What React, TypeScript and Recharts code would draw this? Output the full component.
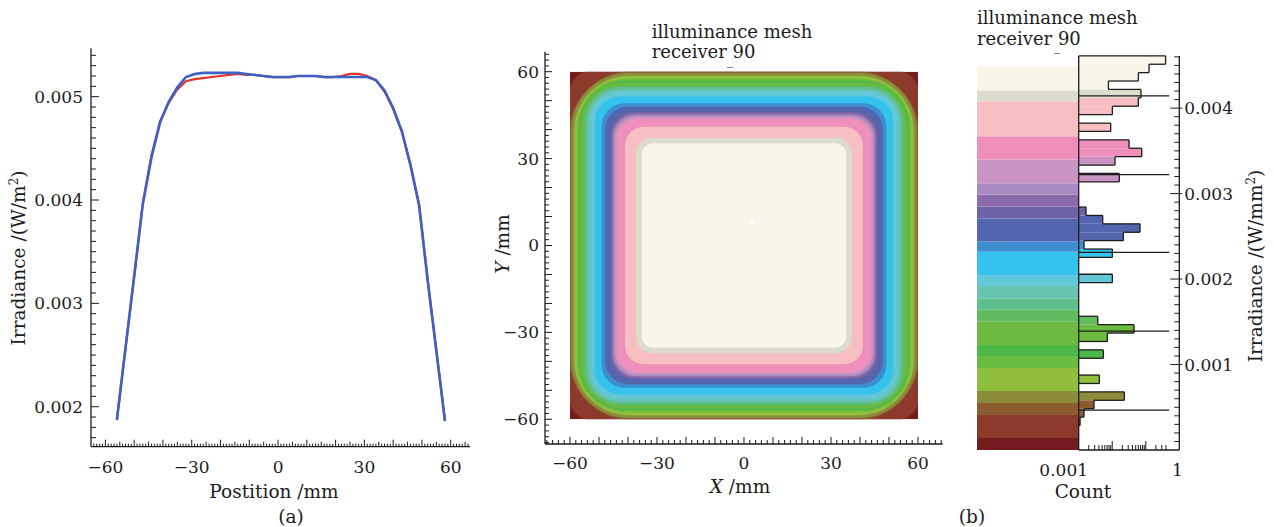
import React from "react";
import {
  LineChart,
  Line,
  ComposedChart,
  XAxis,
  YAxis,
  ReferenceArea,
  ReferenceLine,
} from "recharts";

const SERIF = '"DejaVu Serif", "Liberation Serif", serif';
const INK = "#1c1c1c";

// ---- (a) irradiance profile ----
const positions = [
  -56, -53, -50, -47, -44, -41, -38, -35, -32, -29, -26, -23, -20, -17, -14, -11, -8, -5, -2, 1,
  4, 7, 10, 13, 16, 19, 22, 25, 28, 31, 34, 37, 40, 43, 46, 49, 52, 55, 58,
];
const blueIrr = [
  0.00187, 0.00257, 0.00326, 0.00396, 0.00441, 0.00475, 0.00495, 0.00509, 0.00519, 0.00522,
  0.00523, 0.00523, 0.00523, 0.00523, 0.00523, 0.00522, 0.00521, 0.0052, 0.00519, 0.00519,
  0.00519, 0.0052, 0.0052, 0.0052, 0.00519, 0.00519, 0.00519, 0.00519, 0.00519, 0.00519,
  0.00516, 0.00506, 0.00489, 0.00467, 0.00434, 0.00395, 0.00322, 0.00254, 0.00186,
];
const redIrr = [
  0.00188, 0.00257, 0.00326, 0.00397, 0.00443, 0.00476, 0.00494, 0.00507, 0.00515, 0.00517,
  0.00518, 0.00519, 0.0052, 0.00521, 0.00522, 0.00521, 0.00521, 0.0052, 0.00519, 0.00519,
  0.00519, 0.0052, 0.0052, 0.0052, 0.00519, 0.00519, 0.0052, 0.00522, 0.00522, 0.0052,
  0.00516, 0.00505, 0.00488, 0.00466, 0.00434, 0.00396, 0.00323, 0.00255, 0.00187,
];

// ---- colour scale (irradiance bands, W/mm^2) ----
const scaleColors = [
  "#741c1f", "#8b3a2c", "#8a5c30", "#8d8c3a", "#8fbf3c", "#68bd40", "#4cb848", "#6cba3f",
  "#62bb5f", "#5dbf8c", "#66c4b0", "#62c7d6", "#35c2ec", "#3c8ecf", "#5265ad", "#6e63a8",
  "#8c6bab", "#a98bc1", "#c993c2", "#ee90bb", "#f7bfc2", "#dcdccc", "#f9f5e8",
];
const scaleEdges = [
  0, 0.00014, 0.00041, 0.00055, 0.00069, 0.00096, 0.0011, 0.00123, 0.0015, 0.00164, 0.00177,
  0.00192, 0.00204, 0.00232, 0.00244, 0.00271, 0.00285, 0.00299, 0.00312, 0.0034, 0.00367,
  0.00408, 0.00421, 0.00448,
];

// ---- mesh map: contour of each colour band (half width, corner radius, mm) ----
const bandHalfWidth = [
  60, 60.5, 60.2, 59.6, 58.6, 57.5, 56.8, 56.3, 55.3, 54.8, 54, 53.1, 51.4, 49.1, 47.9, 46.2,
  45.7, 45.1, 44.5, 43.9, 41, 37.2, 35.3,
];
const bandRadius = [
  0, 8.5, 21, 20, 19, 17, 16, 15, 13, 12, 11, 10, 8.5, 8, 8, 8, 8, 7.5, 7.5, 7, 6.5, 5.5, 4,
];
const RECEIVER_HALF = 60;
const peakCell = { x1: 2, x2: 3.6, y1: 7, y2: 8.6 };

// ---- histogram of cell irradiance (top bin first) ----
const histTop = 0.004612;
const histBin = 0.0000983;
const histCounts = [
  0.39, 0.125, 0.06, 0.0077, 0.072, 0.06, 0.0101, 0, 0.009, 0, 0.0317, 0.0757, 0.0121, 0,
  0.0163, 0, 0, 0, 0.00165, 0.0052, 0.0674, 0.0215, 0.00144, 0.0101, 0, 0, 0.0101, 0, 0, 0,
  0, 0.00369, 0.0447, 0.00716, 0, 0.00545, 0, 0, 0.00413, 0, 0.023, 0.00286, 0.00144, 0.0011,
];
const histMarks = [0.004144, 0.003221, 0.002313, 0.00139, 0.000467];

const profileData = positions.map((p, i) => ({ pos: p, blue: blueIrr[i], red: redIrr[i] }));

const fmt = (v: number) => (v < 0 ? "\u2212" + Math.abs(v) : String(v));
const colorAt = (v: number) => {
  for (let i = 0; i < scaleColors.length; i++) {
    if (v >= scaleEdges[i] && v < scaleEdges[i + 1]) return scaleColors[i];
  }
  return scaleColors[scaleColors.length - 1];
};

const COUNT_MIN = 0.001;
const histRows = histCounts.map((c, i) => {
  const hi = histTop - i * histBin;
  return { hi, lo: hi - histBin, count: c, cnt: Math.max(c, COUNT_MIN) };
});

const outline: { x1: number; y1: number; x2: number; y2: number }[] = [];
{
  const cx = histRows.map((r) => r.cnt);
  outline.push({ x1: COUNT_MIN, y1: histRows[0].hi, x2: cx[0], y2: histRows[0].hi });
  histRows.forEach((r, i) => {
    if (r.count > 0) outline.push({ x1: cx[i], y1: r.lo, x2: cx[i], y2: r.hi });
    const nxt = i + 1 < cx.length ? cx[i + 1] : COUNT_MIN;
    if (nxt !== cx[i]) outline.push({ x1: cx[i], y1: r.lo, x2: nxt, y2: r.lo });
  });
}

const range = (a: number, b: number, s: number) => {
  const out: number[] = [];
  for (let v = a; v <= b + 1e-9; v += s) out.push(Math.round(v * 1000) / 1000);
  return out;
};
const aTicksX = range(-64, 66, 1);
const aTicksY = range(17, 54, 1).map((k) => k / 10000);
const mTicksX = range(-68, 68, 2);
const mTicksY = range(-68, 66, 2);
const hTicksY = range(1, 46, 1).map((k) => k / 10000);
const hTicksX = [
  0.001, 0.002, 0.003, 0.004, 0.005, 0.006, 0.007, 0.008, 0.009, 0.01, 0.02, 0.03, 0.04, 0.05,
  0.06, 0.07, 0.08, 0.09, 0.1, 0.2, 0.3, 0.4, 1,
];

const textProps = { fontFamily: SERIF, fontSize: 17, fill: INK };

const ProfileTickX = ({ x, y, payload }: any) => {
  const v = payload.value;
  const len = v % 10 === 0 ? 7 : v % 5 === 0 ? 5 : 3;
  return (
    <g>
      <line x1={x} x2={x} y1={y} y2={y - len} stroke={INK} strokeWidth={1} />
      {v % 30 === 0 && (
        <text x={x} y={y + 26} textAnchor="middle" {...textProps}>
          {fmt(v)}
        </text>
      )}
    </g>
  );
};

const ProfileTickY = ({ x, y, payload }: any) => {
  const k = Math.round(payload.value * 10000);
  const major = k % 10 === 0;
  return (
    <g>
      <line x1={x} x2={x + (major ? 8 : 5)} y1={y} y2={y} stroke={INK} strokeWidth={1} />
      {major && (
        <text x={x - 8} y={y + 6} textAnchor="end" {...textProps}>
          {payload.value.toFixed(3)}
        </text>
      )}
    </g>
  );
};

const MeshTickX = ({ x, y, payload }: any) => {
  const v = payload.value;
  const len = v % 10 === 0 ? 7 : 4;
  return (
    <g>
      <line x1={x} x2={x} y1={y} y2={y - len} stroke={INK} strokeWidth={1} />
      {v % 30 === 0 && (
        <text x={x} y={y + 25} textAnchor="middle" {...textProps}>
          {fmt(v)}
        </text>
      )}
    </g>
  );
};

const MeshTickY = ({ x, y, payload }: any) => {
  const v = payload.value;
  const len = v % 10 === 0 ? 7 : 4;
  return (
    <g>
      <line x1={x} x2={x + len} y1={y} y2={y} stroke={INK} strokeWidth={1} />
      {v % 30 === 0 && (
        <text x={x - 6} y={y + 6} textAnchor="end" {...textProps}>
          {fmt(v)}
        </text>
      )}
    </g>
  );
};

const HistTickY = ({ x, y, payload }: any) => {
  const k = Math.round(payload.value * 10000);
  const major = k % 10 === 0;
  return (
    <g>
      <line x1={major ? x + 3 : x} x2={x - (major ? 9 : 5)} y1={y} y2={y} stroke={INK} strokeWidth={1} />
      {major && (
        <text x={x + 5} y={y + 6} textAnchor="start" {...textProps}>
          {payload.value.toFixed(3)}
        </text>
      )}
    </g>
  );
};

const HistTickX = ({ x, y, payload }: any) => {
  const v = payload.value;
  const major = v === 0.01 || v === 0.1;
  const label = v === 0.001 ? "0.001" : v === 1 ? "1" : null;
  const shift = v === 0.001 ? -15 : -2;
  return (
    <g>
      {v > 0.001 && v < 1 && (
        <line x1={x} x2={x} y1={y} y2={y - (major ? 9 : 5)} stroke={INK} strokeWidth={1} />
      )}
      {label && (
        <text x={x + shift} y={y + 26} textAnchor="middle" {...textProps}>
          {label}
        </text>
      )}
    </g>
  );
};

const bandShape = (band: { w: number; r: number; color: string; id: string }) => (p: any) => {
  const { x, y, width, height } = p;
  const kx = width / (2 * band.w);
  const ky = height / (2 * band.w);
  const cx = x + width / 2;
  const cy = y + height / 2;
  return (
    <g>
      <defs>
        <clipPath id={band.id}>
          <rect
            x={cx - RECEIVER_HALF * kx}
            y={cy - RECEIVER_HALF * ky}
            width={2 * RECEIVER_HALF * kx}
            height={2 * RECEIVER_HALF * ky}
          />
        </clipPath>
      </defs>
      <rect
        x={x}
        y={y}
        width={width}
        height={height}
        rx={band.r * kx}
        ry={band.r * ky}
        fill={band.color}
        clipPath={`url(#${band.id})`}
      />
    </g>
  );
};

function Caption({ x, y, rotate, align, size = 18.5, children }: any) {
  const tx = align === "left" ? "translate(0,-50%)" : "translate(-50%,-50%)";
  return (
    <div
      style={{
        position: "absolute",
        left: x,
        top: y,
        transform: tx + (rotate ? " rotate(-90deg)" : ""),
        fontFamily: SERIF,
        fontSize: size,
        color: INK,
        whiteSpace: "nowrap",
        lineHeight: 1,
      }}
    >
      {children}
    </div>
  );
}

const axisStroke = { stroke: INK, strokeWidth: 1.3 };

export default function App() {
  const bands = scaleColors.map((color, i) => ({
    color,
    w: bandHalfWidth[i],
    r: bandRadius[i],
    id: "band-clip-" + i,
  }));
  const scaleRows = scaleColors.map((c, i) => ({ x: 0.5, lo: scaleEdges[i], hi: scaleEdges[i + 1] }));

  return (
    <div
      style={{
        position: "absolute",
        left: 0,
        top: 0,
        width: 1274,
        height: 527,
        background: "#fff",
        overflow: "hidden",
      }}
    >
      {/* (a) profile */}
      <div style={{ position: "absolute", left: 0, top: 0 }}>
        <LineChart
          width={480}
          height={527}
          data={profileData}
          margin={{ top: 48.3, right: 10, bottom: 0, left: 0 }}
        >
          <XAxis
            type="number"
            dataKey="pos"
            domain={[-65, 66.7]}
            allowDataOverflow
            ticks={aTicksX}
            interval={0}
            tick={<ProfileTickX />}
            tickLine={false}
            tickSize={0}
            tickMargin={0}
            height={80.3}
            axisLine={axisStroke}
          />
          <YAxis
            type="number"
            domain={[0.001613, 0.005468]}
            allowDataOverflow
            ticks={aTicksY}
            interval={0}
            tick={<ProfileTickY />}
            tickLine={false}
            tickSize={0}
            tickMargin={0}
            width={91}
            axisLine={axisStroke}
          />
          <Line
            dataKey="red"
            stroke="#e8352c"
            strokeWidth={2.2}
            dot={false}
            isAnimationActive={false}
          />
          <Line
            dataKey="blue"
            stroke="#3b62c2"
            strokeWidth={2.6}
            dot={false}
            isAnimationActive={false}
          />
        </LineChart>
      </div>

      {/* (b) mesh map */}
      <div style={{ position: "absolute", left: 490, top: 0 }}>
        <ComposedChart
          width={470}
          height={527}
          data={bands}
          margin={{ top: 51.7, right: 17.3, bottom: 0, left: 0 }}
        >
          <XAxis
            type="number"
            dataKey="w"
            domain={[-68.62, 68.52]}
            allowDataOverflow
            ticks={mTicksX}
            interval={0}
            tick={<MeshTickX />}
            tickLine={false}
            tickSize={0}
            tickMargin={0}
            height={83}
            axisLine={axisStroke}
          />
          <YAxis
            type="number"
            dataKey="r"
            domain={[-68.53, 66.9]}
            allowDataOverflow
            ticks={mTicksY}
            interval={0}
            tick={<MeshTickY />}
            tickLine={false}
            tickSize={0}
            tickMargin={0}
            width={55}
            axisLine={axisStroke}
          />
          {bands.map((b) => (
            <ReferenceArea
              key={b.id}
              x1={-b.w}
              x2={b.w}
              y1={-b.w}
              y2={b.w}
              ifOverflow="visible"
              shape={bandShape(b)}
            />
          ))}
          <ReferenceArea
            x1={peakCell.x1}
            x2={peakCell.x2}
            y1={peakCell.y1}
            y2={peakCell.y2}
            fill="#ffffff"
            fillOpacity={1}
            stroke="none"
            ifOverflow="visible"
          />
        </ComposedChart>
      </div>

      {/* colour scale */}
      <div style={{ position: "absolute", left: 960, top: 0 }}>
        <ComposedChart
          width={120}
          height={527}
          data={scaleRows}
          margin={{ top: 56, right: 1.3, bottom: 77, left: 17 }}
        >
          <XAxis type="number" dataKey="x" domain={[0, 1]} allowDataOverflow hide />
          <YAxis type="number" dataKey="lo" domain={[0, 0.00461]} allowDataOverflow hide />
          {scaleColors.map((c, i) => (
            <ReferenceArea
              key={c}
              x1={0}
              x2={1}
              y1={scaleEdges[i]}
              y2={scaleEdges[i + 1]}
              fill={c}
              fillOpacity={1}
              stroke="none"
              ifOverflow="visible"
            />
          ))}
        </ComposedChart>
      </div>

      {/* histogram */}
      <div style={{ position: "absolute", left: 960, top: 0 }}>
        <ComposedChart
          width={314}
          height={527}
          data={histRows}
          margin={{ top: 56, right: 0, bottom: 0, left: 118.7 }}
        >
          <XAxis
            type="number"
            dataKey="cnt"
            scale="log"
            domain={[0.001, 1]}
            allowDataOverflow
            ticks={hTicksX}
            interval={0}
            tick={<HistTickX />}
            tickLine={false}
            tickSize={0}
            tickMargin={0}
            height={77}
            axisLine={axisStroke}
          />
          <YAxis
            type="number"
            dataKey="lo"
            orientation="right"
            domain={[0, 0.00461]}
            allowDataOverflow
            ticks={hTicksY}
            interval={0}
            tick={<HistTickY />}
            tickLine={false}
            tickSize={0}
            tickMargin={0}
            width={94.7}
            axisLine={axisStroke}
          />
          {histRows
            .filter((r) => r.count > 0)
            .map((r) => (
              <ReferenceArea
                key={"bar" + r.hi}
                x1={COUNT_MIN}
                x2={r.count}
                y1={r.lo}
                y2={r.hi}
                fill={colorAt((r.lo + r.hi) / 2)}
                fillOpacity={1}
                stroke="none"
                ifOverflow="visible"
              />
            ))}
          {outline.map((s, i) => (
            <ReferenceLine
              key={"o" + i}
              segment={[
                { x: s.x1, y: s.y1 },
                { x: s.x2, y: s.y2 },
              ]}
              stroke={INK}
              strokeWidth={1.3}
              ifOverflow="visible"
            />
          ))}
          {histMarks.map((m) => (
            <ReferenceLine
              key={"m" + m}
              segment={[
                { x: COUNT_MIN, y: m },
                { x: 0.5, y: m },
              ]}
              stroke={INK}
              strokeWidth={1.2}
              ifOverflow="visible"
            />
          ))}
          <ReferenceLine x={COUNT_MIN} stroke={INK} strokeWidth={1.3} ifOverflow="visible" />
        </ComposedChart>
      </div>

      {/* captions */}
      <Caption x={18} y={258} rotate>
        Irradiance /(W/m<sup style={{ fontSize: 12 }}>2</sup>)
      </Caption>
      <Caption x={274} y={492}>Postition /mm</Caption>
      <Caption x={291} y={517}>(a)</Caption>

      <Caption x={651.7} y={31.7} align="left" size={18}>illuminance mesh</Caption>
      <Caption x={651.7} y={52.3} align="left" size={18}>receiver 90</Caption>
      <div style={{ position: "absolute", left: 727, top: 67, width: 6, height: 1, background: "#888" }} />
      <Caption x={503} y={244} rotate>
        <i>Y</i> /mm
      </Caption>
      <Caption x={740} y={487}>
        <i>X</i> /mm
      </Caption>

      <Caption x={977} y={18} align="left" size={18}>illuminance mesh</Caption>
      <Caption x={977} y={39} align="left" size={18}>receiver 90</Caption>
      <div style={{ position: "absolute", left: 1054, top: 53, width: 6, height: 1, background: "#888" }} />
      <Caption x={1083} y={492}>Count</Caption>
      <Caption x={972} y={517}>(b)</Caption>
      <Caption x={1255} y={266} rotate>
        Irradiance /(W/mm<sup style={{ fontSize: 12 }}>2</sup>)
      </Caption>
    </div>
  );
}
